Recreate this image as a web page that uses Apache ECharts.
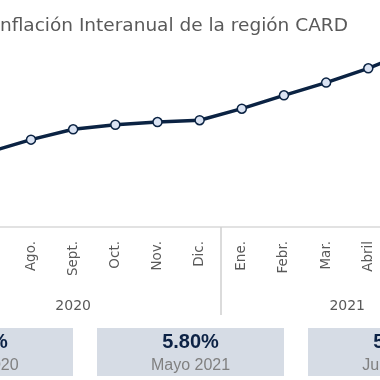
<!DOCTYPE html>
<html>
<head>
<meta charset="utf-8">
<script src="https://cdn.jsdelivr.net/npm/echarts@6/dist/echarts.min.js"></script>
<style>
html,body{margin:0;padding:0;background:#fff;overflow:hidden;width:380px;height:380px;position:relative;}
#c{position:absolute;left:-120px;top:0;width:620px;height:380px;}
</style>
</head>
<body>
<div id="c"></div>
<script>
// ---- data ----
var titleText = 'Inflación Interanual de la región CARD';
var months = ['Jun.', 'Jul.', 'Ago.', 'Sept.', 'Oct.', 'Nov.', 'Dic.', 'Ene.', 'Febr.', 'Mar.', 'Abril', 'Mayo', 'Jun.'];
var inflation = [2.20, 2.47, 2.88, 3.22, 3.37, 3.46, 3.52, 3.90, 4.34, 4.76, 5.23, 5.80, 5.95];
var years = ['2020', '2021'];
var monthsPerYear = [7, 6];
var cardValues = ['2.20%', '5.80%', '5.95%'];
var cardLabels = ['Junio 2020', 'Mayo 2021', 'Junio 2021'];

// ---- derived year group positions ----
var yearCenters = [], yearBounds = [0], acc = 0;
for (var i = 0; i < years.length; i++) {
  yearCenters.push(acc + monthsPerYear[i] / 2);
  acc += monthsPerYear[i];
  yearBounds.push(acc);
}
var nCat = months.length;

var OFF = 120; // chart canvas is wider than the visible window
var FONT = 'DejaVu Sans';
var step = 42.16;
var gridLeft = OFF - 74.4;
var gridTop = 29.8, gridBottom = 153;

var graphics = [];
var cardX0 = OFF - 114, cardW = 187, cardGap = 24, cardY = 328, cardH = 48;
for (var k = 0; k < cardValues.length; k++) {
  var x = cardX0 + k * (cardW + cardGap);
  graphics.push({
    type: 'rect', left: x, top: cardY,
    shape: { width: cardW, height: cardH },
    style: { fill: '#D6DCE5' }, silent: true
  });
  graphics.push({
    type: 'text', x: x + cardW / 2, y: 342,
    style: { text: cardValues[k], fill: '#0C2245', font: 'bold 20px "Liberation Sans", Arial', textAlign: 'center', textVerticalAlign: 'middle' }
  });
  graphics.push({
    type: 'text', x: x + cardW / 2, y: 366,
    style: { text: cardLabels[k], fill: '#808080', font: '16px "Liberation Sans", Arial', textAlign: 'center', textVerticalAlign: 'middle' }
  });
}

var chart = echarts.init(document.getElementById('c'), null, { renderer: 'canvas' });
chart.setOption({
  animation: false,
  backgroundColor: '#ffffff',
  title: {
    text: titleText, left: OFF - 5.5, top: 17, padding: 0,
    textStyle: { fontFamily: FONT, fontSize: 18.5, fontWeight: 'normal', color: '#595959' }
  },
  grid: { left: gridLeft, width: step * nCat, top: gridTop, bottom: gridBottom, containLabel: false },
  xAxis: [{
    type: 'category', data: months, boundaryGap: true, position: 'bottom',
    axisLine: { show: true, lineStyle: { color: '#D9D9D9', width: 1.5 } },
    axisTick: { show: false },
    axisLabel: { rotate: 90, margin: 14, interval: 0, fontFamily: FONT, fontSize: 13.5, color: '#595959' }
  }, {
    type: 'value', min: 0, max: nCat, position: 'bottom', offset: 0,
    axisLine: { show: false },
    splitLine: { show: false },
    axisTick: { show: true, customValues: yearBounds, length: 88, lineStyle: { color: '#D0D0D0', width: 1.5 } },
    axisLabel: {
      show: true, customValues: yearCenters, margin: 72, fontFamily: FONT, fontSize: 14, color: '#595959',
      formatter: function (v) { var idx = yearCenters.indexOf(v); return idx >= 0 ? years[idx] : ''; }
    }
  }],
  yAxis: { type: 'value', min: 0, max: 6.5, show: false, splitLine: { show: false } },
  series: [{
    type: 'line', data: inflation, xAxisIndex: 0,
    lineStyle: { color: '#0B2343', width: 3.5 },
    symbol: 'circle', symbolSize: 9,
    itemStyle: { color: '#DAE3F3', borderColor: '#0B2343', borderWidth: 1.5 },
    label: { show: false }
  }],
  graphic: graphics
});
</script>
</body>
</html>
